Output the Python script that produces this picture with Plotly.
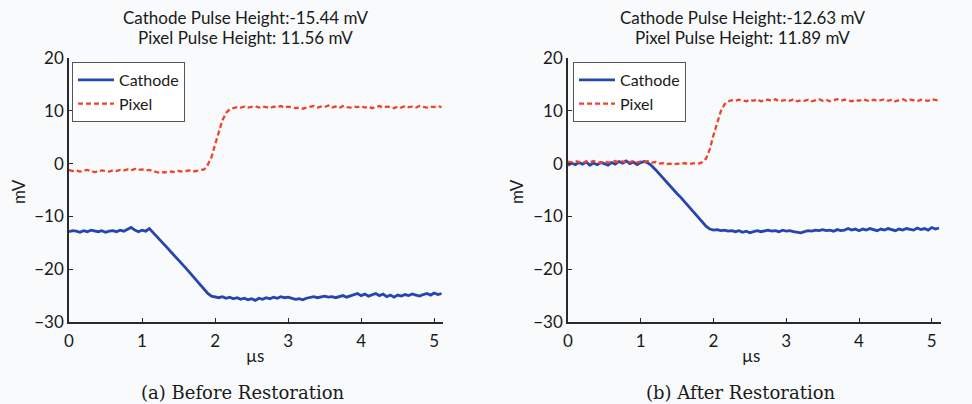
import plotly.graph_objects as go

# ---------------- data ----------------
T_STEP = 0.05  # µs sample spacing of the hand-read points

before_cathode = [
    -12.9, -12.7, -12.8, -13.0, -12.7, -12.9, -12.6, -12.8, -12.9, -12.7,
    -13.0, -12.8, -12.7, -12.9, -12.6, -12.8, -12.5, -12.1, -12.6, -12.9,
    -12.6, -12.8, -12.3,
    -13.0, -13.7, -14.5, -15.2, -16.0, -16.8, -17.5, -18.3, -19.1, -19.8,
    -20.6, -21.4, -22.2, -23.0, -23.8, -24.6, -25.1, -25.3,
    -25.4, -25.2, -25.5, -25.3, -25.6, -25.4, -25.7, -25.5, -25.8, -25.6,
    -25.9, -25.5, -25.7, -25.4, -25.6, -25.3, -25.5, -25.2, -25.4, -25.3,
    -25.5, -25.7, -25.6, -25.8, -25.5, -25.4, -25.2, -25.4, -25.3, -25.1,
    -25.3, -25.2, -25.4, -25.2, -25.0, -25.3, -25.1, -24.8, -24.6, -25.0,
    -24.7, -25.1, -24.8, -24.6, -25.0, -24.7, -25.2, -24.9, -25.3, -24.9,
    -25.1, -24.8, -25.0, -24.7, -24.9, -25.1, -24.8, -24.6, -24.9, -24.5,
    -24.8, -24.6,
]
before_pixel = [
    -1.2, -1.4, -1.3, -1.5, -1.3, -1.2, -1.4, -1.6, -1.5, -1.3,
    -1.4, -1.5, -1.3, -1.4, -1.2, -1.3, -1.1, -1.3, -1.0, -1.2,
    -1.1, -1.3, -1.2, -1.4, -1.5, -1.8, -1.6, -1.7, -1.5, -1.6,
    -1.4, -1.5, -1.4, -1.3, -1.5, -1.4, -1.3, -1.1,
    -0.2, 1.2, 3.6, 6.0, 8.2, 9.6, 10.3, 10.5, 10.7, 10.6,
    10.8, 10.6, 10.7, 10.9, 10.6, 10.8, 10.7, 10.5, 10.8, 10.7,
    10.9, 10.6, 10.8, 10.7, 10.5, 10.6, 10.4, 10.6, 10.7, 10.9,
    10.6, 10.8, 10.7, 11.0, 10.6, 10.8, 10.5, 10.9, 10.7, 10.6,
    10.8, 10.7, 10.9, 10.6, 10.8, 10.5, 10.7, 10.9, 10.6, 10.8,
    10.7, 10.5, 10.8, 10.6, 10.9, 10.7, 10.8, 10.6, 10.9, 10.7,
    10.6, 10.8, 10.7, 10.9, 10.7,
]
after_cathode = [
    -0.3, 0.1, -0.2, 0.2, -0.1, 0.3, -0.3, 0.1, -0.2, 0.2,
    0.0, -0.3, 0.2, -0.1, 0.4, 0.1, 0.5, 0.0, 0.3, -0.2,
    0.2, 0.4, 0.1,
    -0.4, -1.1, -1.9, -2.6, -3.4, -4.1, -4.9, -5.7, -6.4, -7.2,
    -7.9, -8.7, -9.5, -10.3, -11.1, -11.9, -12.4, -12.6,
    -12.5, -12.7, -12.6, -12.8, -12.7, -12.9, -12.7, -13.0, -12.8, -13.1,
    -12.9, -12.7, -12.9, -12.8, -12.6, -12.8, -12.7, -12.9, -12.6, -12.8,
    -12.7, -12.9, -13.0, -13.1, -12.9, -12.7, -12.8, -12.6, -12.7, -12.5,
    -12.7, -12.6, -12.8, -12.5, -12.7, -12.6, -12.3, -12.6, -12.4, -12.7,
    -12.4, -12.6, -12.3, -12.5, -12.7, -12.4, -12.6, -12.3, -12.5, -12.7,
    -12.4, -12.6, -12.3, -12.5, -12.6, -12.2, -12.5, -12.3, -12.6, -12.1,
    -12.4, -12.2,
]
after_pixel = [
    0.4, 0.2, 0.5, 0.3, 0.1, 0.4, 0.2, 0.5, 0.3, 0.1,
    0.4, 0.2, 0.3, 0.5, 0.2, 0.4, 0.1, 0.3, 0.5, 0.2,
    0.4, 0.3, 0.5, 0.2, 0.3, 0.0, 0.1, -0.1, 0.0, -0.2,
    0.0, -0.1, 0.1, -0.1, 0.0, 0.1, 0.0, 0.3,
    1.0, 2.8, 5.4, 7.8, 9.9, 11.2, 11.8, 12.0, 11.9, 12.1,
    12.0, 11.8, 12.1, 11.9, 12.2, 11.8, 12.0, 12.1, 11.9, 12.2,
    11.8, 12.0, 12.1, 11.9, 12.2, 11.8, 12.0, 11.9, 12.1, 11.8,
    12.0, 12.2, 11.9, 12.1, 11.8, 12.0, 12.2, 11.9, 12.1, 12.0,
    11.8, 12.1, 11.9, 12.2, 12.0, 11.8, 12.1, 11.9, 12.0, 12.2,
    11.9, 12.1, 11.8, 12.0, 12.2, 11.9, 12.1, 12.0, 11.8, 12.1,
    12.0, 11.9, 12.2, 12.0, 11.9,
]

titles = [
    ("Cathode Pulse Height:-15.44 mV", "Pixel Pulse Height: 11.56 mV"),
    ("Cathode Pulse Height:-12.63 mV", "Pixel Pulse Height: 11.89 mV"),
]
captions = ["(a) Before Restoration", "(b) After Restoration"]
x_ticks = [0, 1, 2, 3, 4, 5]
y_ticks = [-30, -20, -10, 0, 10, 20]


def times(values):
    return [round(i * T_STEP, 4) for i in range(len(values))]


# ---------------- styling ----------------
W, H = 972, 404
BG = "#f8fafb"
BLUE = "#2645ad"
RED = "#f0432a"
AX = "#2a2a2a"
TXT = "#1a1a1a"
SANS = "Lato, 'Open Sans', sans-serif"
SERIF = "'DejaVu Serif', serif"

fig = go.Figure()

panels = [
    dict(cat=before_cathode, pix=before_pixel, xa="x", ya="y", leg="legend"),
    dict(cat=after_cathode, pix=after_pixel, xa="x2", ya="y2", leg="legend2"),
]
for p in panels:
    fig.add_trace(go.Scatter(
        x=times(p["cat"]), y=p["cat"], mode="lines", name="Cathode",
        line=dict(color=BLUE, width=2.8), xaxis=p["xa"], yaxis=p["ya"],
        legend=p["leg"]))
    fig.add_trace(go.Scatter(
        x=times(p["pix"]), y=p["pix"], mode="lines", name="Pixel",
        line=dict(color=RED, width=2.3, dash="5px,3px"),
        xaxis=p["xa"], yaxis=p["ya"], legend=p["leg"]))

x_domains = [[69 / W, 443 / W], [568 / W, 940.5 / W]]
y_domain = [1 - 322 / H, 1 - 58 / H]

common_x = dict(range=[0, 5.12], tickvals=x_ticks, ticks="inside", ticklen=4,
                tickwidth=1.2, tickcolor=AX, showline=True, linecolor=AX,
                linewidth=1.5, showgrid=False, zeroline=False,
                automargin=False, ticklabelstandoff=3,
                tickfont=dict(family=SANS, size=17, color=TXT))
common_y = dict(range=[-30, 20], tickvals=y_ticks, ticks="inside", ticklen=4,
                tickwidth=1.2, tickcolor=AX, showline=True, linecolor=AX,
                linewidth=1.5, showgrid=False, zeroline=False,
                automargin=False,
                tickfont=dict(family=SANS, size=17, color=TXT))

legend_common = dict(xanchor="left", yanchor="top", bgcolor="white",
                     bordercolor="#555", borderwidth=1,
                     font=dict(family=SANS, size=16, color=TXT),
                     itemwidth=36, tracegroupgap=0)

fig.update_layout(
    template="none",
    width=W, height=H, margin=dict(l=0, r=0, t=0, b=0, pad=0),
    paper_bgcolor=BG, plot_bgcolor=BG, showlegend=True,
    xaxis=dict(domain=x_domains[0], anchor="y", **common_x),
    yaxis=dict(domain=y_domain, anchor="x", **common_y),
    xaxis2=dict(domain=x_domains[1], anchor="y2", **common_x),
    yaxis2=dict(domain=y_domain, anchor="x2", **common_y),
    legend=dict(x=72 / W, y=1 - 62 / H, **legend_common),
    legend2=dict(x=573 / W, y=1 - 62 / H, **legend_common),
)

title_cx = [245 / W, 742 / W]
cap_cx = [243 / W, 741 / W]
mv_x = [18 / W, 516 / W]
us_x = [255 / W, 751 / W]
for i in range(2):
    for line, yy in zip(titles[i], [17, 38]):
        fig.add_annotation(text=line, x=title_cx[i], y=1 - yy / H,
                           xref="paper", yref="paper", showarrow=False,
                           xanchor="center", yanchor="middle",
                           font=dict(family=SANS, size=17, color=TXT))
    fig.add_annotation(text=captions[i], x=cap_cx[i], y=1 - 392 / H,
                       xref="paper", yref="paper", showarrow=False,
                       xanchor="center", yanchor="middle",
                       font=dict(family=SERIF, size=18, color=TXT))
    fig.add_annotation(text="mV", x=mv_x[i], y=1 - 192 / H, textangle=-90,
                       xref="paper", yref="paper", showarrow=False,
                       xanchor="center", yanchor="middle",
                       font=dict(family=SANS, size=17, color=TXT))
    fig.add_annotation(text="µs", x=us_x[i], y=1 - 355 / H,
                       xref="paper", yref="paper", showarrow=False,
                       xanchor="center", yanchor="middle",
                       font=dict(family=SANS, size=17, color=TXT))

fig.write_html("out.html")
